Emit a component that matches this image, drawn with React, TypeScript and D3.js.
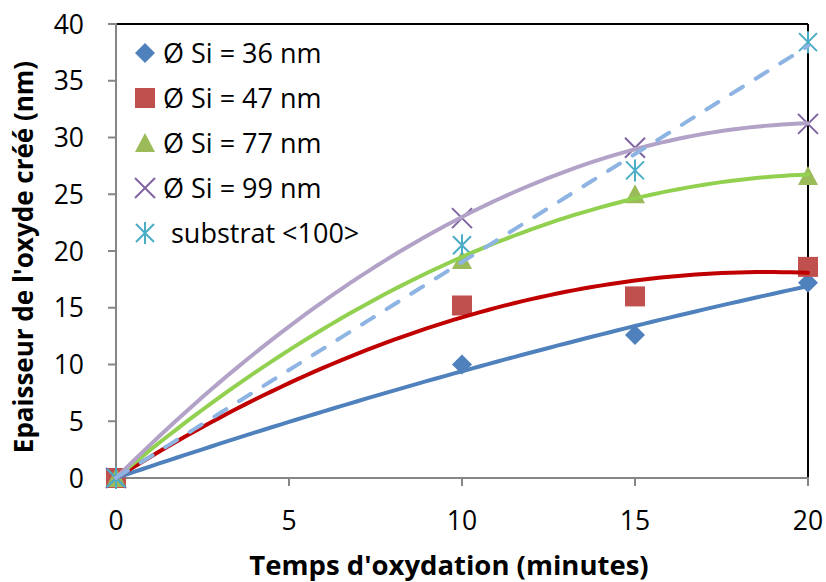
import React from "react";
import * as d3 from "d3";

const times = [0, 10, 15, 20];
const seriesNames = ["Ø Si = 36 nm", "Ø Si = 47 nm", "Ø Si = 77 nm", "Ø Si = 99 nm", "substrat <100>"];
const si36 = [0, 10.0, 12.6, 17.2];
const si47 = [0, 15.2, 16.0, 18.6];
const si77 = [0, 19.2, 25.0, 26.6];
const si99 = [0, 22.9, 29.1, 31.2];
const substrat = [0, 20.5, 27.1, 38.4];
const yTicks = [0, 5, 10, 15, 20, 25, 30, 35, 40];
const xTicks = [0, 5, 10, 15, 20];

const markerColors = ["#4F81BD", "#C0504D", "#9BBB59", "#8064A2", "#4BACC6"];
const trendColors = ["#4F81BD", "#C00000", "#92D050", "#B3A2C7", "#8DB4E2"];
const markerTypes = ["diamond", "square", "triangle", "x", "star"];
const trendTypes = ["poly", "poly", "poly", "poly", "linear"];

// least squares through origin
function fitPoly(xs: number[], ys: number[]) {
  let s2 = 0, s3 = 0, s4 = 0, sxy = 0, sx2y = 0;
  xs.forEach((x, i) => {
    const y = ys[i];
    s2 += x * x; s3 += x ** 3; s4 += x ** 4; sxy += x * y; sx2y += x * x * y;
  });
  const det = s2 * s4 - s3 * s3;
  const a = (sxy * s4 - s3 * sx2y) / det;
  const b = (s2 * sx2y - s3 * sxy) / det;
  return (x: number) => a * x + b * x * x;
}
function fitLinear(xs: number[], ys: number[]) {
  let s2 = 0, sxy = 0;
  xs.forEach((x, i) => { s2 += x * x; sxy += x * ys[i]; });
  const a = sxy / s2;
  return (x: number) => a * x;
}

const W = 826, H = 582;
const L = 116, R = 808, T = 24, B = 478;
const FONT = "'Open Sans', sans-serif";

function Marker({ type, x, y, color }: { type: string; x: number; y: number; color: string }) {
  const s = 10;
  if (type === "diamond")
    return <path d={`M${x},${y - s}L${x + s},${y}L${x},${y + s}L${x - s},${y}Z`} fill={color} />;
  if (type === "square")
    return <rect x={x - s} y={y - s} width={2 * s} height={2 * s} fill={color} />;
  if (type === "triangle")
    return <path d={`M${x},${y - s}L${x + s},${y + 9}L${x - s},${y + 9}Z`} fill={color} />;
  if (type === "x")
    return (
      <path d={`M${x - s},${y - s}L${x + s},${y + s}M${x - s},${y + s}L${x + s},${y - s}`} stroke={color} strokeWidth={2} />
    );
  return (
    <path
      d={`M${x - 9},${y - 9}L${x + 9},${y + 9}M${x - 9},${y + 9}L${x + 9},${y - 9}M${x},${y - 11}L${x},${y + 11}`}
      stroke={color}
      strokeWidth={2}
    />
  );
}

export default function App() {
  const x = d3.scaleLinear().domain([0, 20]).range([L, R]);
  const y = d3.scaleLinear().domain([0, 40]).range([B, T]);
  const allSeries = [si36, si47, si77, si99, substrat];
  const samples = d3.range(0, 20.0001, 0.25);
  const line = d3.line<[number, number]>().x((d) => x(d[0])).y((d) => y(d[1])).curve(d3.curveLinear);

  return (
    <svg width={W} height={H} style={{ position: "absolute", left: 0, top: 0, background: "#fff" }} fontFamily={FONT}>
      <rect x={0} y={0} width={W} height={H} fill="#fff" />
      {/* axes */}
      <line x1={L} x2={R} y1={T} y2={T} stroke="#000" strokeWidth={2} />
      <line x1={R} x2={R} y1={T} y2={B} stroke="#000" strokeWidth={2} />
      <line x1={L} x2={L} y1={T - 1} y2={B + 1} stroke="#868686" strokeWidth={2} />
      <line x1={L - 1} x2={R + 1} y1={B} y2={B} stroke="#868686" strokeWidth={2} />
      {yTicks.map((t) => (
        <g key={"y" + t}>
          <line x1={L - 8} x2={L} y1={y(t)} y2={y(t)} stroke="#868686" strokeWidth={2} />
          <text x={84} y={y(t)} dy="0.36em" textAnchor="end" fontSize={26.5} fill="#000">
            {t}
          </text>
        </g>
      ))}
      {xTicks.map((t) => (
        <g key={"x" + t}>
          <line x1={x(t)} x2={x(t)} y1={B} y2={B + 8} stroke="#868686" strokeWidth={2} />
          <text x={x(t)} y={530} textAnchor="middle" fontSize={26.5} fill="#000">
            {t}
          </text>
        </g>
      ))}
      {/* markers */}
      {allSeries.map((vals, si) =>
        vals.map((v, i) => (
          <Marker key={si + "-" + i} type={markerTypes[si]} x={x(times[i])} y={y(v)} color={markerColors[si]} />
        ))
      )}
      {/* trendlines */}
      {allSeries.map((vals, si) => {
        const f = trendTypes[si] === "poly" ? fitPoly(times, vals) : fitLinear(times, vals);
        const pts = samples.map((t) => [t, f(t)] as [number, number]);
        return (
          <path
            key={"t" + si}
            d={line(pts) || ""}
            fill="none"
            stroke={trendColors[si]}
            strokeWidth={4}
            strokeLinecap="round"
            strokeDasharray={trendTypes[si] === "linear" ? "14 15" : undefined}
          />
        );
      })}
      {/* legend */}
      {seriesNames.map((name, i) => {
        const ly = 53 + i * 45;
        return (
          <g key={"l" + i}>
            <Marker type={markerTypes[i]} x={145} y={ly} color={markerColors[i]} />
            <text x={i === 4 ? 171 : 163} y={ly} dy="0.36em" fontSize={27} fill="#000">
              {name}
            </text>
          </g>
        );
      })}
      {/* titles */}
      <text x={449} y={575} textAnchor="middle" fontSize={27.5} fontWeight="bold" fill="#000">
        Temps d'oxydation (minutes)
      </text>
      <text
        transform={`translate(33,${257}) rotate(-90)`}
        textAnchor="middle"
        fontSize={26}
        fontWeight="bold"
        fill="#000"
      >
        Epaisseur de l'oxyde créé (nm)
      </text>
    </svg>
  );
}
